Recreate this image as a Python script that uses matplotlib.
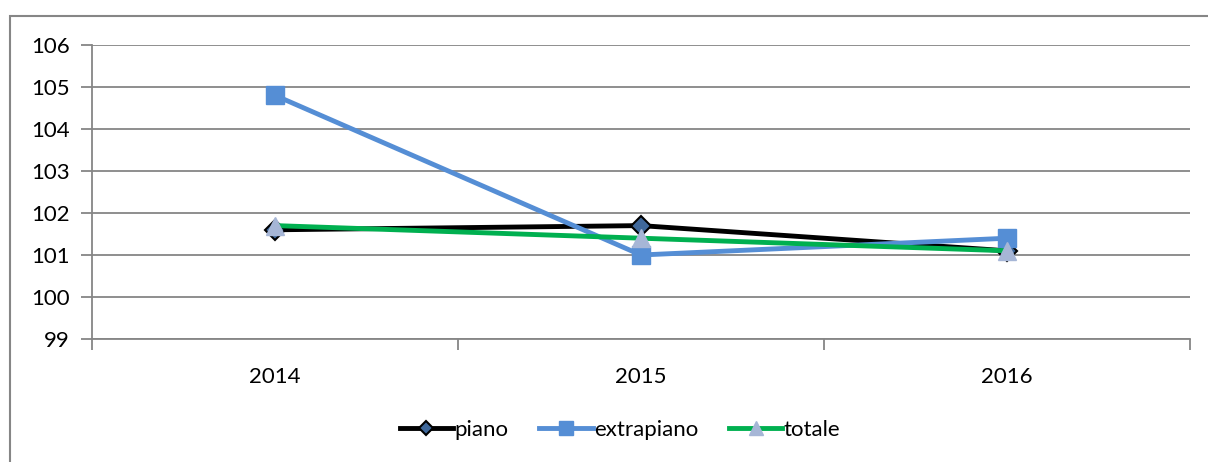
import matplotlib.pyplot as plt
from matplotlib.patches import Rectangle

# dati
anni = ["2014", "2015", "2016"]
piano = [101.6, 101.7, 101.1]
extrapiano = [104.8, 101.0, 101.4]
totale = [101.7, 101.4, 101.1]

plt.rcParams["font.family"] = ["Lato", "DejaVu Sans"]

fig = plt.figure(figsize=(12.08, 4.62), dpi=100)
ax = fig.add_axes([92 / 1208, 1 - 339 / 462, 1098 / 1208, 294 / 462])

# cornice esterna
fig.patches.append(Rectangle((10 / 1208, -0.01), 1.5, 1 - 16 / 462 + 0.01,
                             transform=fig.transFigure, fill=False,
                             edgecolor="#868686", linewidth=1.5))

x = range(len(anni))
ax.plot(x, piano, color="black", linewidth=3.5, marker="D", markersize=10,
        markerfacecolor="#3f689b", markeredgecolor="black", markeredgewidth=1.5,
        label="piano", zorder=3)
ax.plot(x, extrapiano, color="#558ed5", linewidth=3.5, marker="s", markersize=13,
        markerfacecolor="#558ed5", markeredgecolor="#558ed5", label="extrapiano", zorder=4)
ax.plot(x, totale, color="#00b050", linewidth=3.5, marker="^", markersize=13,
        markerfacecolor="#a6b6d6", markeredgecolor="#a6b6d6", label="totale", zorder=5)

ax.set_xlim(-0.5, 2.5)
ax.set_ylim(99, 106)
ax.set_yticks(range(99, 107))
ax.set_xticks(x)
ax.set_xticklabels(anni)
ax.set_xticks([-0.5, 0.5, 1.5, 2.5], minor=True)
ax.tick_params(axis="x", which="major", length=0, pad=20, labelsize=16)
ax.tick_params(axis="x", which="minor", length=8, color="#868686", width=1.3)
ax.tick_params(axis="y", length=8, color="#868686", width=1.3, labelsize=16, pad=8)
ax.grid(axis="y", color="#868686", linewidth=1.3)
ax.set_axisbelow(True)
for s in ["top", "right"]:
    ax.spines[s].set_visible(False)
for s in ["left", "bottom"]:
    ax.spines[s].set_color("#868686")
    ax.spines[s].set_linewidth(1.3)

fig.legend(loc="center", bbox_to_anchor=(620 / 1208, 1 - 430 / 462), ncol=3,
           frameon=False, fontsize=16, handlelength=2.4, handletextpad=0.05,
           columnspacing=1.4, markerscale=0.75)

fig.savefig("out.png", dpi=100)
